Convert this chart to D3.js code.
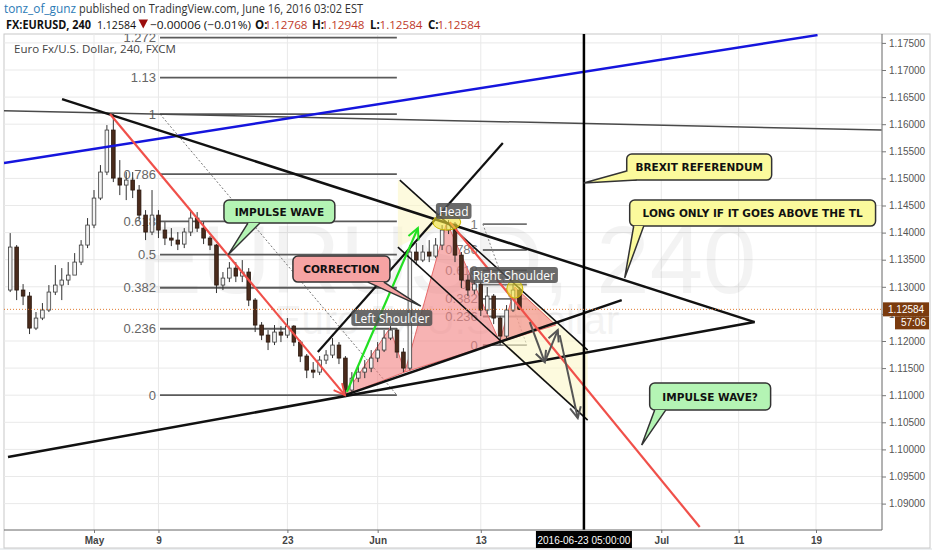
<!DOCTYPE html>
<html><head><meta charset="utf-8">
<script src="https://cdn.jsdelivr.net/npm/d3@7/dist/d3.min.js"></script>
<style>body{margin:0;background:#fff}svg{display:block}</style>
</head><body>
<svg id="c" width="932" height="550"></svg>
<script>
// ---------------- DATA ----------------
const priceTicks = [1.090,1.095,1.100,1.105,1.110,1.115,1.120,1.125,1.130,1.135,1.140,1.145,1.150,1.155,1.160,1.165,1.170,1.175];
// time axis: trading days counted from Mon 2 May 2016
const timeTickDays = [0,5,15,22,30,44,50,56];
const timeTickLabels = ["May","9","23","Jun","13","Jul","11","19"];
const barStartDay = -6.5, barStepDays = 0.5;
const firstOpen = 1.12940;
const closes = [1.13733,1.12940,1.12829,1.12238,1.12423,1.12571,1.12903,1.13032,1.13124,1.13216,
1.13456,1.13770,1.14139,1.14637,1.15117,1.15892,1.15006,1.14877,1.14969,1.14785,
1.14323,1.14010,1.14323,1.14047,1.13899,1.13862,1.13788,1.14010,1.14268,1.14083,
1.13899,1.13770,1.13032,1.13161,1.13345,1.13198,1.13272,1.12755,1.12294,1.12109,
1.11980,1.12165,1.12109,1.12275,1.11980,1.11722,1.11463,1.11426,1.11648,1.11741,
1.11925,1.11685,1.11095,1.11315,1.11426,1.11500,1.11685,1.11833,1.12054,1.12202,
1.11796,1.11500,1.13641,1.13493,1.13641,1.13567,1.13770,1.14047,1.14157,1.13585,
1.13124,1.12940,1.13050,1.12571,1.12829,1.12423,1.12091,1.12571,1.12940,1.12584];
const highs = [1.13991,1.13770,1.13050,1.12903,1.12534,1.12700,1.13032,1.13401,1.13345,1.13456,
1.13622,1.13862,1.14268,1.14785,1.15246,1.15984,1.16187,1.15338,1.15117,1.15117,
1.14877,1.14415,1.14785,1.14415,1.14194,1.14083,1.14010,1.14083,1.14415,1.14379,
1.14194,1.13936,1.13788,1.13272,1.13456,1.13456,1.13493,1.13345,1.12792,1.12349,
1.12202,1.12294,1.12275,1.12423,1.12294,1.12017,1.11759,1.11611,1.11722,1.11833,
1.12054,1.11980,1.11722,1.11426,1.11537,1.11648,1.11833,1.11980,1.12202,1.12275,
1.12238,1.11869,1.13770,1.13807,1.13770,1.13862,1.13899,1.14139,1.14231,1.14194,
1.13641,1.13216,1.13161,1.13087,1.12995,1.12866,1.12460,1.12663,1.13050,1.12995];
const lows = [1.12903,1.12755,1.12663,1.12128,1.12202,1.12386,1.12534,1.12848,1.12755,1.13032,
1.13272,1.13401,1.13714,1.14083,1.14600,1.15061,1.14932,1.14692,1.14600,1.14637,
1.14231,1.13862,1.13954,1.13899,1.13770,1.13751,1.13678,1.13714,1.13936,1.14010,
1.13788,1.13678,1.12885,1.12940,1.13087,1.13087,1.13087,1.12644,1.12165,1.12017,
1.11833,1.11925,1.11980,1.12054,1.11906,1.11611,1.11315,1.11315,1.11371,1.11574,
1.11685,1.11574,1.10965,1.11039,1.11241,1.11315,1.11426,1.11611,1.11796,1.12017,
1.11685,1.11426,1.11463,1.13401,1.13456,1.13456,1.13530,1.13678,1.13973,1.13456,
1.12976,1.12829,1.12866,1.12460,1.12497,1.12312,1.11925,1.12054,1.12534,1.12571];
const lastPrice = 1.12584;
const hdrLabels = ["O:","H:","L:","C:"];
const hdrValues = ["1.12768","1.12948","1.12584","1.12584"];

// drawings anchored in (trading day, price)
const blueTrend = [[-6.98,1.15283],[56.12,1.17644]];
const grayTrend = [[-6.98,1.16248],[61.09,1.15892]];
const triTop = [[-2.48,1.16463],[51.24,1.12349]];
const triBottom = [[-6.67,1.09858],[51.24,1.12349]];
const neckLine = [[19.46,1.11002],[40.93,1.12755]];
const steepLine = [[17.36,1.11796],[31.71,1.15652]];
const chanHigh = [[23.72,1.14969],[38.29,1.11833]];
const chanLow = [[23.57,1.13733],[38.29,1.10541]];
const red1 = [[1.24,1.16187],[19.46,1.11002]];
const red2 = [[27.6,1.14194],[46.98,1.08567]];
const greenArrow = [[19.61,1.11058],[25.12,1.14083]];
const grayArrows = [[[33.8,1.12349],[34.96,1.11611]],[[34.96,1.11611],[35.97,1.12202]],[[36.12,1.12109],[37.52,1.10578]]];
const fibLevels1 = [0,0.236,0.382,0.5,0.618,0.786,1,1.13,1.272];
const fib1 = {t0:5.12,t1:23.49,p0:1.11002,p1:1.16187};
const fibLevels2 = [0,0.236,0.382,0.5,0.618,0.786,1];
const fib2 = {t0:30.16,t1:33.57,p0:1.11925,p1:1.14157};
const hsPoints = [[19.46,1.11002],[22.95,1.12238],[24.11,1.11427],[27.36,1.14194],[31.47,1.11980],[32.64,1.12995],[35.81,1.12294]];
const hsLabels = [["Left Shoulder",23.1,1.12423],["Head",27.9,1.14397],["Right Shoulder",32.56,1.13216]];
const projLeft = [[23.57,1.14978],[27.36,1.14194],[23.57,1.13733]];
const projRight = [[32.64,1.12995],[38.29,1.11833],[38.29,1.10541],[31.47,1.11980]];
const eventDay = 38, eventLabel = "2016-06-23 05:00:00";
const callouts = [
 {text:"IMPULSE WAVE", box:[10.08,1.14600,18.68,1.14176], tip:[10.39,1.13585], base:[[11.94,1.14176],[12.87,1.14176]], kind:"g"},
 {text:"CORRECTION", box:[15.43,1.13567,22.95,1.13087], tip:[25.35,1.12644], base:[[21.24,1.13087],[22.48,1.13087]], kind:"r"},
 {text:"BREXIT REFERENDUM", box:[41.32,1.15449,52.56,1.14969], tip:[37.98,1.14914], base:[[41.32,1.15135],[42.09,1.14969]], kind:"y"},
 {text:"LONG ONLY IF IT GOES ABOVE THE TL", box:[41.55,1.14600,60.62,1.14120], tip:[41.16,1.13161], base:[[41.86,1.14120],[42.64,1.14120]], kind:"y"},
 {text:"IMPULSE WAVE?", box:[43.10,1.11224,52.48,1.10726], tip:[42.48,1.10080], base:[[43.49,1.10726],[44.34,1.10726]], kind:"g"}
];

// ---------------- CHART ----------------
const W=932,H=550, plot={l:4,r:882,t:34,b:530};
const x=d3.scaleLinear().domain([0,56]).range([94,816]);
const y=d3.scaleLinear().domain([1.09,1.175]).range([503.6,42.9]);
const svg=d3.select("#c");
const defs=svg.append("defs");
defs.append("clipPath").attr("id","clip").append("rect")
  .attr("x",plot.l).attr("y",plot.t).attr("width",plot.r-plot.l).attr("height",plot.b-plot.t);
function marker(id,color){
  defs.append("marker").attr("id",id).attr("markerUnits","userSpaceOnUse")
   .attr("viewBox","0 0 14 14").attr("refX",12).attr("refY",7)
   .attr("markerWidth",14).attr("markerHeight",14).attr("orient","auto")
   .append("path").attr("d","M1,1.5L12,7L1,12.5").attr("fill","none")
   .attr("stroke",color).attr("stroke-width",2).attr("stroke-linejoin","miter");
}
marker("arRed","#f0504a"); marker("arGreen","#22e022"); marker("arGray","#555");

svg.append("rect").attr("width",W).attr("height",H).attr("fill","#fff");
svg.append("rect").attr("x",0).attr("y",548).attr("width",W).attr("height",2).attr("fill","#eceff1");

// header
const hdr=svg.append("g").attr("font-family","'Open Sans',sans-serif");
const l1=hdr.append("text").attr("y",13).attr("font-size",12.5);
l1.append("tspan").attr("x",4).attr("fill","#2c7bb6").attr("textLength",72).attr("lengthAdjust","spacingAndGlyphs").text("tonz_of_gunz");
l1.append("tspan").attr("x",79).attr("fill","#333").attr("textLength",284).attr("lengthAdjust","spacingAndGlyphs").text("published on TradingView.com, June 16, 2016 03:02 EST");
const l2=hdr.append("text").attr("y",28.5).attr("font-size",11.5);
l2.append("tspan").attr("x",6).attr("font-weight","bold").attr("fill","#111").attr("textLength",85).attr("lengthAdjust","spacingAndGlyphs").text("FX:EURUSD, 240");
l2.append("tspan").attr("x",97).attr("fill","#111").attr("textLength",39).attr("lengthAdjust","spacingAndGlyphs").text(lastPrice.toFixed(5));
l2.append("tspan").attr("x",150).attr("fill","#111").attr("textLength",101).attr("lengthAdjust","spacingAndGlyphs").text("\u22120.00006 (\u22120.01%)");
const hx=[255,312,370,428];
hdrLabels.forEach((lab,i)=>{
  l2.append("tspan").attr("x",hx[i]).attr("font-weight","bold").attr("fill","#111").text(lab);
  l2.append("tspan").attr("x",hx[i]+9.5).attr("fill","#c0392b").attr("textLength",43).attr("lengthAdjust","spacingAndGlyphs").text(hdrValues[i]);
});
hdr.append("path").attr("d","M138.5,19.5L148,19.5L143.25,28.5Z").attr("fill","#9b0d0d");

// frame
svg.append("rect").attr("x",plot.l).attr("y",plot.t).attr("width",926).attr("height",514).attr("fill","none").attr("stroke","#c8c8c8");

const P=svg.append("g").attr("clip-path","url(#clip)");
// grid
P.selectAll("line.hg").data(priceTicks).join("line").attr("x1",plot.l).attr("x2",plot.r)
 .attr("y1",d=>y(d)).attr("y2",d=>y(d)).attr("stroke","#e9e9e9");
P.selectAll("line.vg").data(timeTickDays).join("line").attr("y1",plot.t).attr("y2",plot.b)
 .attr("x1",d=>x(d)).attr("x2",d=>x(d)).attr("stroke","#e9e9e9");
// watermark
P.append("text").attr("x",447).attr("y",293).attr("text-anchor","middle").attr("font-family","'Liberation Sans',Arial")
 .attr("font-size",96).attr("fill","#000").attr("opacity",0.045).text("EURUSD, 240");
P.append("text").attr("x",447).attr("y",334).attr("text-anchor","middle").attr("font-family","'Liberation Sans',Arial")
 .attr("font-size",40).attr("fill","#000").attr("opacity",0.045).text("Euro Fx/U.S. Dollar");

const line=d3.line().x(d=>x(d[0])).y(d=>y(d[1]));

// fib 1
function fib(levels,f,labelGap,op){
  const g=P.append("g").attr("opacity",op);
  levels.forEach(lv=>{
    const p=f.p0+(f.p1-f.p0)*lv;
    g.append("line").attr("x1",x(f.t0)).attr("x2",x(f.t1)).attr("y1",y(p)).attr("y2",y(p))
     .attr("stroke","#5a5a5a").attr("stroke-width",1.8);
    g.append("text").attr("x",x(f.t0)-labelGap).attr("y",y(p)+4.5).attr("text-anchor","end")
     .attr("font-family","'Liberation Sans',Arial").attr("font-size",13).attr("fill","#666").text(String(lv));
  });
  g.append("path").attr("d",line([[f.t0,f.p1],[f.t1,f.p0]])).attr("stroke","#777").attr("stroke-width",1)
   .attr("stroke-dasharray","2,2").attr("fill","none");
}
fib(fibLevels1,fib1,4,1);
fib(fibLevels2,fib2,5,0.85);

// projections
[projLeft,projRight].forEach(pts=>P.append("path").attr("d",line(pts)+"Z").attr("fill","#fbf6c8").attr("opacity",0.6));

// pink H&S triangles
[[0,1,2],[2,3,4],[4,5,6]].forEach(tri=>{
  P.append("path").attr("d",line(tri.map(i=>hsPoints[i]))+"Z").attr("fill","#f28080").attr("fill-opacity",0.6)
   .attr("stroke","#e86a6a").attr("stroke-width",1);
});

// candles
const bars=closes.map((c,i)=>({t:barStartDay+i*barStepDays,o:i?closes[i-1]:firstOpen,c,h:highs[i],l:lows[i]}));
const cg=P.append("g");
cg.selectAll("line").data(bars).join("line").attr("x1",d=>x(d.t)).attr("x2",d=>x(d.t))
 .attr("y1",d=>y(d.h)).attr("y2",d=>y(d.l)).attr("stroke","#333").attr("stroke-width",1);
cg.selectAll("rect").data(bars).join("rect").attr("x",d=>x(d.t)-1.8).attr("width",3.6)
 .attr("y",d=>y(Math.max(d.o,d.c))).attr("height",d=>Math.max(1,Math.abs(y(d.o)-y(d.c))))
 .attr("fill",d=>d.c>=d.o?"#f4f4f4":"#4a2b1c").attr("stroke",d=>d.c>=d.o?"#3a3a3a":"#2a180e").attr("stroke-width",0.8);

// trend lines
function tl(pts,color,w,mk){
  const p=P.append("path").attr("d",line(pts)).attr("stroke",color).attr("stroke-width",w).attr("fill","none");
  if(mk) p.attr("marker-end","url(#"+mk+")");
}
tl(grayTrend,"#4a4a4a",1.5);
tl(blueTrend,"#1515dd",2.5);
tl(triTop,"#111",2.5);
tl(triBottom,"#111",2.5);
tl(neckLine,"#111",2.5);
tl(steepLine,"#111",2.2);
tl(chanHigh,"#111",1.6);
tl(chanLow,"#111",1.6);
tl(red1,"#f0504a",2.2,"arRed");
tl(red2,"#f0504a",2.2);
tl(greenArrow,"#22e022",2.2,"arGreen");
grayArrows.forEach(a=>tl(a,"#555",2,"arGray"));

// ellipses
P.append("ellipse").attr("cx",x(hsPoints[3][0])).attr("cy",y(hsPoints[3][1])).attr("rx",14).attr("ry",8)
 .attr("fill","#f2e23a").attr("fill-opacity",0.6).attr("stroke","#cbb800").attr("stroke-width",1);
P.append("ellipse").attr("cx",x(hsPoints[5][0])).attr("cy",y(1.12957)).attr("rx",8).attr("ry",9)
 .attr("fill","#f2e23a").attr("fill-opacity",0.6).attr("stroke","#cbb800").attr("stroke-width",1);

// H&S labels
hsLabels.forEach(([txt,t,p])=>{
  const g=P.append("g");
  const tx=g.append("text").attr("x",x(t)).attr("y",y(p)+4.5).attr("text-anchor","middle")
   .attr("font-family","'Open Sans',sans-serif").attr("font-size",12).attr("fill","#fff").text(txt);
  const w=tx.node().getComputedTextLength()+6;
  g.insert("rect","text").attr("x",x(t)-w/2).attr("y",y(p)-8).attr("width",w).attr("height",16).attr("rx",3)
   .attr("fill","#505050").attr("fill-opacity",0.85);
});

// event vertical line
P.append("line").attr("x1",x(eventDay)).attr("x2",x(eventDay)).attr("y1",plot.t).attr("y2",plot.b).attr("stroke","#000").attr("stroke-width",2.5);

// callouts
const fills={g:"#b4f4b4",r:"#f6a3a3",y:"#fbfa9c"};
callouts.forEach(c=>{
  const g=P.append("g");
  const x0=x(c.box[0]),x1=x(c.box[2]),y0=y(c.box[1]),y1=y(c.box[3]);
  g.append("rect").attr("x",x0).attr("y",y0).attr("width",x1-x0).attr("height",y1-y0).attr("rx",5)
   .attr("fill",fills[c.kind]).attr("stroke","#333").attr("stroke-width",1.5);
  const b1=c.base[0],b2=c.base[1];
  g.append("path").attr("d",`M${x(b1[0])},${y(b1[1])}L${x(c.tip[0])},${y(c.tip[1])}L${x(b2[0])},${y(b2[1])}Z`)
   .attr("fill",fills[c.kind]);
  g.append("path").attr("d",`M${x(b1[0])},${y(b1[1])}L${x(c.tip[0])},${y(c.tip[1])}L${x(b2[0])},${y(b2[1])}`)
   .attr("fill","none").attr("stroke","#333").attr("stroke-width",1.5);
  g.append("text").attr("x",(x0+x1)/2).attr("y",(y0+y1)/2+4).attr("text-anchor","middle")
   .attr("font-family","'DejaVu Sans',Verdana,sans-serif").attr("font-weight","bold").attr("font-size",10.5)
   .attr("fill","#111").text(c.text);
});

// last price dotted line
P.append("line").attr("x1",plot.l).attr("x2",plot.r).attr("y1",y(lastPrice)).attr("y2",y(lastPrice))
 .attr("stroke","#e07a30").attr("stroke-width",1).attr("stroke-dasharray","1,2");

// chart title
svg.append("text").attr("x",14).attr("y",53).attr("font-family","'Open Sans',sans-serif").attr("font-size",11.5)
 .attr("fill","#444").text("Euro Fx/U.S. Dollar, 240, FXCM");

// axes
svg.append("line").attr("x1",plot.r).attr("x2",plot.r).attr("y1",plot.t).attr("y2",plot.b).attr("stroke","#666");
svg.append("line").attr("x1",plot.l).attr("x2",plot.r).attr("y1",plot.b).attr("y2",plot.b).attr("stroke","#666");
const ya=svg.append("g").attr("transform",`translate(${plot.r},0)`)
 .call(d3.axisRight(y).tickValues(priceTicks).tickFormat(d=>d.toFixed(5)).tickSize(4).tickPadding(3));
ya.select(".domain").remove();
ya.selectAll("text").attr("font-family","'Liberation Sans',Arial").attr("font-size",10).attr("fill","#555");
ya.selectAll("line").attr("stroke","#777");
const xa=svg.append("g").attr("transform",`translate(0,${plot.b})`)
 .call(d3.axisBottom(x).tickValues(timeTickDays).tickFormat((d,i)=>timeTickLabels[i]).tickSize(3).tickPadding(4));
xa.select(".domain").remove();
xa.selectAll("text").attr("font-family","'Liberation Sans',Arial").attr("font-size",10).attr("fill","#444").attr("font-weight","bold");
xa.selectAll("line").attr("stroke","#777");

// event date label
const ex=x(eventDay);
svg.append("rect").attr("x",ex-48).attr("y",531).attr("width",96).attr("height",17).attr("fill","#000");
svg.append("text").attr("x",ex).attr("y",543.5).attr("text-anchor","middle").attr("font-family","'Liberation Sans',Arial")
 .attr("font-size",10).attr("fill","#fff").text(eventLabel);

// last price label
const ly=y(lastPrice);
svg.append("rect").attr("x",plot.r+1).attr("y",ly-7).attr("width",46).attr("height",14).attr("fill","#7b3b0e");
svg.append("text").attr("x",plot.r+6).attr("y",ly+3.6).attr("font-family","'Liberation Sans',Arial").attr("font-size",10)
 .attr("fill","#fff").text(lastPrice.toFixed(5));
svg.append("rect").attr("x",plot.r+13).attr("y",ly+7).attr("width",34).attr("height",13).attr("fill","#7b3b0e");
svg.append("text").attr("x",plot.r+44).attr("y",ly+17).attr("text-anchor","end").attr("font-family","'Liberation Sans',Arial").attr("font-size",10)
 .attr("fill","#fff").text("57:06");
</script>
</body></html>
